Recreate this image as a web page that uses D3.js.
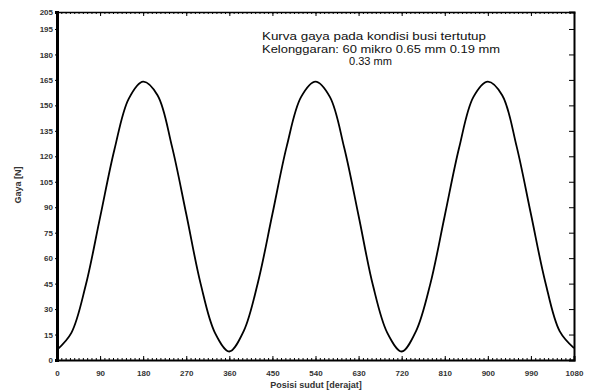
<!DOCTYPE html>
<html>
<head>
<meta charset="utf-8">
<script src="https://cdn.jsdelivr.net/npm/d3@7"></script>
<style>
  body { margin: 0; background: #fff; }
  svg { display: block; font-family: "Liberation Sans", Arial, sans-serif; }
</style>
</head>
<body>
<svg id="chart" width="596" height="392"></svg>
<script>
// crank angle (degrees) and force
const angles = d3.range(0, 1081, 30)
const force = [
  6, 16, 44, 84, 124, 154, 164, 156, 126, 86, 45, 16,
  5, 17, 46, 86, 126, 155, 164, 155, 125, 85, 44, 16,
  5, 17, 45, 85, 125, 155, 164, 156, 126, 86, 46, 17, 7,
]
const xTicks = [0, 90, 180, 270, 360, 450, 540, 630, 720, 810, 900, 990, 1080]
const yTicks = [0, 15, 30, 45, 60, 75, 90, 105, 120, 135, 150, 165, 180, 195, 205]
const noteLines = [
  "Kurva gaya pada kondisi busi tertutup",
  "Kelonggaran: 60 mikro 0.65 mm 0.19 mm",
]
const noteLast = "0.33 mm"

const margin = { top: 12, right: 22, bottom: 32, left: 57 }
const width = 596 - margin.left - margin.right
const height = 392 - margin.top - margin.bottom

const svg = d3.select("#chart")
const g = svg.append("g").attr("transform", `translate(${margin.left},${margin.top})`)

const x = d3.scaleLinear().domain([0, 1080]).range([0, width])
const y = d3.scaleLinear().domain([0, 205]).range([height, 0])

const minor = d3.range(0, 1081, 9)

// bottom axis: inward major + minor ticks
g.append("g")
  .attr("transform", `translate(0,${height})`)
  .call(d3.axisBottom(x).tickValues(minor).tickSize(-2).tickFormat(""))
  .call(a => a.select(".domain").remove())
g.append("g")
  .attr("transform", `translate(0,${height})`)
  .call(d3.axisBottom(x).tickValues(xTicks).tickSize(-4).tickPadding(10).tickFormat(d3.format("d")))
  .call(a => a.select(".domain").attr("stroke-width", 2))
  .call(a => a.selectAll("text").style("font-size", "8px").style("font-weight", "bold").attr("fill", "#333"))

// top border with minor ticks
g.append("g")
  .call(d3.axisTop(x).tickValues(minor).tickSize(-2).tickFormat(""))
  .call(a => a.select(".domain").attr("stroke-width", 1.5))
g.append("g")
  .call(d3.axisTop(x).tickValues(xTicks).tickSize(-4).tickFormat(""))
  .call(a => a.select(".domain").remove())

// right border with inward ticks
g.append("g")
  .attr("transform", `translate(${width},0)`)
  .call(d3.axisRight(y).tickValues(yTicks.slice(0, -1)).tickSize(-5).tickFormat(""))
  .call(a => a.select(".domain").attr("stroke-width", 2))

// left axis, thick
g.append("g")
  .call(d3.axisLeft(y).tickValues(yTicks).tickSize(2).tickPadding(2))
  .call(a => a.select(".domain").attr("stroke-width", 3))
  .call(a => a.selectAll("text").style("font-size", "8px").style("font-weight", "bold").attr("fill", "#333"))

// curve
const line = d3.line()
  .x((d, i) => x(angles[i]))
  .y(d => y(d))
  .curve(d3.curveCatmullRom)

g.append("path")
  .datum(force)
  .attr("fill", "none")
  .attr("stroke", "#000")
  .attr("stroke-width", 1.8)
  .attr("d", line)

// annotation
const noteWidths = [224, 238]
svg.selectAll(".note")
  .data(noteLines)
  .enter()
  .append("text")
  .attr("class", "note")
  .attr("x", 262)
  .attr("y", (d, i) => 40 + i * 12.5)
  .attr("textLength", (d, i) => noteWidths[i])
  .attr("lengthAdjust", "spacingAndGlyphs")
  .style("font-size", "11px")
  .attr("fill", "#111")
  .text(d => d)
svg.append("text")
  .attr("x", 349)
  .attr("y", 65)
  .attr("textLength", 43)
  .attr("lengthAdjust", "spacingAndGlyphs")
  .style("font-size", "11px")
  .attr("fill", "#111")
  .text(noteLast)

// axis titles
svg.append("text")
  .attr("x", 316)
  .attr("y", 388)
  .attr("text-anchor", "middle")
  .style("font-size", "9px")
  .style("font-weight", "bold")
  .attr("fill", "#333")
  .text("Posisi sudut [derajat]")

svg.append("text")
  .attr("transform", "translate(21,185) rotate(-90)")
  .attr("text-anchor", "middle")
  .style("font-size", "9px")
  .style("font-weight", "bold")
  .attr("fill", "#333")
  .text("Gaya [N]")
</script>
</body>
</html>
